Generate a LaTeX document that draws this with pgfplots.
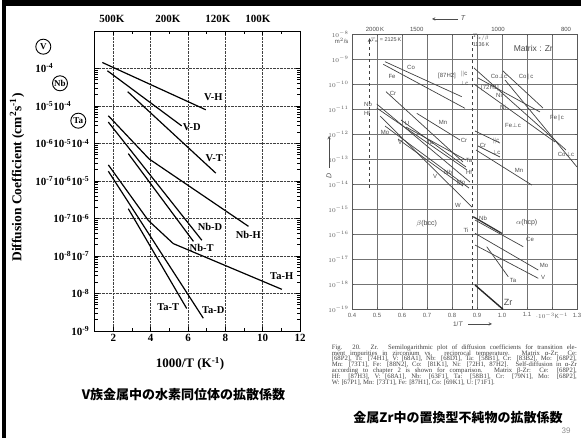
\documentclass[border=0pt]{standalone}
\usepackage{fontspec}
\setmainfont{Liberation Serif}
\setsansfont{Liberation Sans}
\newfontfamily\cjk{Noto Sans CJK JP}
\usepackage{pgfplots}
\pgfplotsset{compat=1.18}
\newcommand\E[1]{\textbf{10}\textsuperscript{\textbf{#1}}}
\newcommand\PE{\phantom{\E{-4}}}
\begin{document}
\begin{tikzpicture}
\useasboundingbox (0,0) rectangle (581pt,438pt);
% ---------------- left chart ----------------
\begin{axis}[at={(94.7pt,107pt)}, anchor=south west, scale only axis,
  width=205.3pt, height=300pt,
  xmin=1, xmax=12, ymode=log, ymin=1e-9, ymax=1e-1,
  xtick={2,4,6,8,10,12}, xticklabels={\textbf{2},\textbf{4},\textbf{6},\textbf{8},\textbf{10},\textbf{12}},
  minor x tick num=1,
  ytick={1e-9,1e-8,1e-7,1e-6,1e-5,1e-4,1e-3,1e-2},
  yticklabels={\E{-9},\E{-8},\E{-8}\E{-7},\E{-7}\E{-6},\E{-7}\E{-6}\E{-5},\E{-6}\E{-5}\E{-4},\E{-5}\E{-4}\PE,\E{-4}\PE\PE},
  ticklabel style={font=\fontsize{11}{11}\selectfont\bfseries},
  yticklabel style={xshift=-2pt},
  grid=major, major grid style={densely dotted, black!75, line width=0.6pt},
  axis line style={black, line width=0.8pt}, tick style={black, line width=0.6pt},
  cycle list={black,solid,line width=1.2pt,mark=none\\}]
\addplot coordinates {(1.41,1.445e-2) (6.95,7.94e-4)}; % V-H
\addplot coordinates {(1.68,8.71e-3) (5.66,2.95e-4)}; % V-D
\addplot coordinates {(2.77,2.40e-3) (7.49,1.62e-5)}; % V-T
\addplot coordinates {(1.73,5.50e-4) (3.91,3.89e-5) (9.24,6.17e-7)}; % Nb-H
\addplot coordinates {(1.73,3.72e-4) (6.74,2.63e-7)}; % Nb-D
\addplot coordinates {(2.80,5.37e-5) (6.29,2.45e-7)}; % Nb-T
\addplot coordinates {(1.73,2.69e-5) (3.87,8.91e-7) (5.21,2.14e-7) (11.03,1.29e-8)}; % Ta-H
\addplot coordinates {(1.73,1.82e-5) (6.82,2.19e-9)}; % Ta-D
\addplot coordinates {(2.80,1.82e-6) (5.93,3.98e-9)}; % Ta-T
\end{axis}
% ---------------- right chart ----------------
\begin{axis}[at={(352pt,128.7pt)}, anchor=south west, scale only axis,
  width=225pt, height=274.8pt,
  xmin=0.4, xmax=1.3, ymode=log, ymin=1e-19, ymax=1e-8,
  xtick={0.4,0.5,0.6,0.7,0.8,0.9,1.0,1.1,1.2,1.3},
  xticklabels={0.4,0.5,0.6,0.7,0.8,0.9,1.0,1.1,{$\cdot10^{-3}$K$^{-1}$},1.3},
  ytick={1e-19,1e-18,1e-17,1e-16,1e-15,1e-14,1e-13,1e-12,1e-11,1e-10,1e-9,1e-8},
  ticklabel style={font=\fontsize{6}{6}\sffamily, text=black!65},
  minor tick length=0pt, major tick length=2pt,
  grid=major, major grid style={black!55, line width=0.5pt},
  axis line style={black!65, line width=0.6pt}, tick style={black!65},
  cycle list={black!75,solid,line width=0.7pt,mark=none\\}]
% beta (bcc)
\addplot coordinates {(0.532,8.15e-10) (0.839,3.24e-11)}; % Co
\addplot coordinates {(0.525,6.41e-10) (0.852,1.11e-11)}; % Fe
\addplot coordinates {(0.536,5.13e-11) (0.844,7.87e-14)}; % Cr
\addplot coordinates {(0.659,7.00e-12) (0.832,5.98e-13)}; % Mn
\addplot coordinates {(0.499,1.65e-11) (0.872,1.24e-14)}; % Nb
\addplot coordinates {(0.499,1.14e-11) (0.860,3.77e-14)}; % Hf
\addplot coordinates {(0.596,3.78e-12) (0.856,4.97e-14)}; % U
\addplot coordinates {(0.616,1.98e-12) (0.856,9.46e-14)}; % Ta
\addplot coordinates {(0.532,2.17e-12) (0.868,7.16e-15)}; % Mo
\addplot coordinates {(0.584,6.56e-13) (0.844,8.61e-15)}; % V
\addplot coordinates {(0.512,5.46e-12) (0.880,1.24e-15)}; % W
% alpha (hcp)
\addplot coordinates {(0.888,4.56e-10) (1.256,2.38e-13)}; % Co perp c
\addplot coordinates {(1.004,3.46e-10) (1.164,1.14e-11)}; % Co par c
\addplot coordinates {(1.012,1.51e-10) (1.300,4.97e-14)}; % Fe par c
\addplot coordinates {(0.888,1.04e-10) (1.212,4.98e-13)}; % Fe perp c
\addplot coordinates {(0.904,1.82e-10) (1.152,7.91e-12)}; % Ni
\addplot coordinates {(0.892,1.37e-12) (0.992,4.53e-13)}; % Cr par c
\addplot coordinates {(0.904,3.44e-13) (0.992,1.25e-13)}; % Cr perp c
\addplot coordinates {(0.896,2.38e-13) (1.119,9.44e-15)}; % Mn
\addplot[black!80, line width=1.3pt] coordinates {(0.885,5.08e-16) (0.999,1.10e-16)}; % Nb
\addplot coordinates {(0.892,3.75e-16) (1.085,3.20e-17)}; % Ce
\addplot coordinates {(0.892,1.10e-16) (1.145,3.73e-18)}; % Mo (Ti)
\addplot coordinates {(0.892,3.74e-17) (1.145,1.74e-18)}; % V
\addplot coordinates {(0.939,3.20e-17) (1.025,2.01e-18)}; % Ta
\addplot[black!85, line width=1.4pt] coordinates {(0.892,9.38e-19) (1.004,1.0e-19)}; % Zr
\draw[dashed, black!75, line width=0.7pt, -stealth] (axis cs:0.4706,7.2e-15) -- (axis cs:0.4706,7.2e-9);
\draw[dashed, black!75, line width=0.7pt] (axis cs:0.880,1e-19) -- (axis cs:0.880,1e-8);
\end{axis}
% ---------------- annotations ----------------
\begin{scope}[shift={(0pt,438pt)}, x=1pt, y=-1pt]
\fill[black] (1.5,0.5) rectangle (581,6.5);
\fill[black] (1.5,0.5) rectangle (5.5,438);
% left chart texts
\node[rotate=90, font=\fontsize{13.5}{13.5}\selectfont\bfseries] at (17,177.5) {Diffusion Coefficient (cm\textsuperscript{2}s\textsuperscript{-1})};
\node[font=\fontsize{13}{13}\selectfont\bfseries] at (190,364) {1000/T (K\textsuperscript{-1})};
\begin{scope}[every node/.style={font=\fontsize{11}{11}\selectfont\bfseries}]
\node at (112,19) {500K};
\node at (168,19) {200K};
\node at (218,19) {120K};
\node at (258,19) {100K};
\end{scope}
\begin{scope}[every node/.style={draw, circle, line width=0.9pt, inner sep=0.5pt, minimum size=15pt, font=\fontsize{9}{9}\selectfont\bfseries}]
\node at (43.3,46.7) {V};
\node at (60,83.3) {Nb};
\node at (78.3,120.7) {Ta};
\end{scope}
\begin{scope}[every node/.style={font=\fontsize{10.5}{10.5}\selectfont\bfseries}]
\node at (213.3,96.7) {V-H};
\node at (191.7,126.7) {V-D};
\node at (214.3,158.3) {V-T};
\node at (210,226.7) {Nb-D};
\node at (248.3,235) {Nb-H};
\node at (201.7,248.3) {Nb-T};
\node at (281.7,276) {Ta-H};
\node at (168.3,307.3) {Ta-T};
\node at (213.3,310) {Ta-D};
\end{scope}
\node[font=\fontsize{13}{13}\selectfont\cjk\bfseries] at (183.5,395) {V族金属中の水素同位体の拡散係数};
% right chart texts
\begin{scope}[every node/.style={font=\fontsize{6}{6}\sffamily, text=black!70, inner sep=0.5pt}]
\node at (341.7,41) {m$^2$/s};
\node at (375,29) {2000\,K};
\node at (416.7,29) {1500};
\node at (498,29) {1000};
\node at (566,29) {800};
\node[font=\fontsize{7}{7}\sffamily\itshape] at (463,18) {T};
\node[font=\fontsize{5.5}{5.5}\sffamily] at (386,40) {$T_\mathrm{m}$ = 2125\,K};
\node[font=\fontsize{5.5}{5.5}\sffamily] at (481,37) {$T_{\alpha/\beta}$};
\node[font=\fontsize{5.5}{5.5}\sffamily] at (481,45) {1136\,K};
\node[font=\fontsize{8.5}{8.5}\sffamily] at (533.3,48.3) {Matrix : Zr};
\node at (411,67) {Co};
\node at (392,76) {Fe};
\node at (393,93) {Cr};
\node at (443,122) {Mn};
\node at (464,140) {Cr};
\node at (368,104) {Nb};
\node at (367,113) {Hf};
\node at (385,132) {Mo};
\node at (400,142) {V};
\node at (407,123) {U};
\node at (430,142) {Ta};
\node at (469,160) {Ta};
\node at (469,172) {Hf};
\node at (461,182) {Mo};
\node at (448,172) {Nb};
\node at (435,176) {V};
\node at (458,205) {W};
\node at (447,76) {[87H2]};
\node at (464,74) {$\parallel$c};
\node at (464,83) {$\perp$c};
\node at (499,76) {Co$\perp$c};
\node at (526,77) {Co$\parallel$c};
\node at (490,88) {[72H1]};
\node at (499,95) {Ni};
\node at (503,107) {Ni};
\node at (557,118) {Fe$\parallel$c};
\node at (513,125) {Fe$\perp$c};
\node at (566,154) {Co$\perp$c};
\node at (496,141) {$\parallel$c};
\node at (483,145) {Cr};
\node at (496,152) {$\perp$c};
\node at (519,170) {Mn};
\node at (483,218) {Nb};
\node at (530,239) {Ce};
\node at (466,230) {Ti};
\node at (544,265) {Mo};
\node at (543,277) {V};
\node at (513,280) {Ta};
\node[font=\fontsize{9}{9}\sffamily] at (508,302) {Zr};
\node[font=\fontsize{7}{7}\sffamily] at (426.7,223.3) {$\beta$(bcc)};
\node[font=\fontsize{7}{7}\sffamily] at (526.7,222.7) {$\alpha$(hcp)};
\node[font=\fontsize{6.5}{6.5}\sffamily] at (458,324) {1/\textit{T}};
\node[rotate=90, font=\fontsize{7}{7}\sffamily\itshape] at (329,176) {D};
\end{scope}
\draw[black!70, line width=0.5pt, -stealth] (458,19) -- (432,19);
\draw[black!70, line width=0.5pt, -stealth] (468,324) -- (492,324);
\draw[black!70, line width=0.5pt, -stealth] (329,168) -- (329,136);
\node[anchor=north west, inner sep=0pt, text=black!75, font=\fontsize{6.7}{7.2}\selectfont] at (331.7,344) {%
\begin{tabular}{@{}l@{}}
\makebox[245pt][s]{Fig. 20. Zr. Semilogarithmic plot of diffusion coefficients for transition ele-}\\[-1.4pt]
\makebox[245pt][s]{ment impurities in zirconium vs. reciprocal temperature. Matrix α-Zr: Ce:}\\[-1.4pt]
\makebox[245pt][s]{[68P2], Ti: [74H1], V: [68A1], Nb: [68D1], Ta: [58B1], Cr: [83B2], Mo: [68P2],}\\[-1.4pt]
\makebox[245pt][s]{Mn: [73T1], Fe: [88N2], Co: [81K1], Ni: [72H1, 87H2]. Self-diffusion in α-Zr}\\[-1.4pt]
\makebox[245pt][s]{according to chapter 2 is shown for comparison. Matrix β-Zr: Ce: [68P2],}\\[-1.4pt]
\makebox[245pt][s]{Hf: [87H3], V: [68A1], Nb: [63F1], Ta: [58B1], Cr: [79N1], Mo: [68P2],}\\[-1.4pt]
W: [67P1], Mn: [73T1], Fe: [87H1], Co: [69K1], U: [71F1].
\end{tabular}};
\node[font=\fontsize{13}{13}\selectfont\cjk\bfseries] at (458,418) {金属Zr中の置換型不純物の拡散係数};
\node[font=\fontsize{8}{8}\selectfont\sffamily, text=black!45] at (566,431) {39};
\end{scope}
\end{tikzpicture}
\end{document}
